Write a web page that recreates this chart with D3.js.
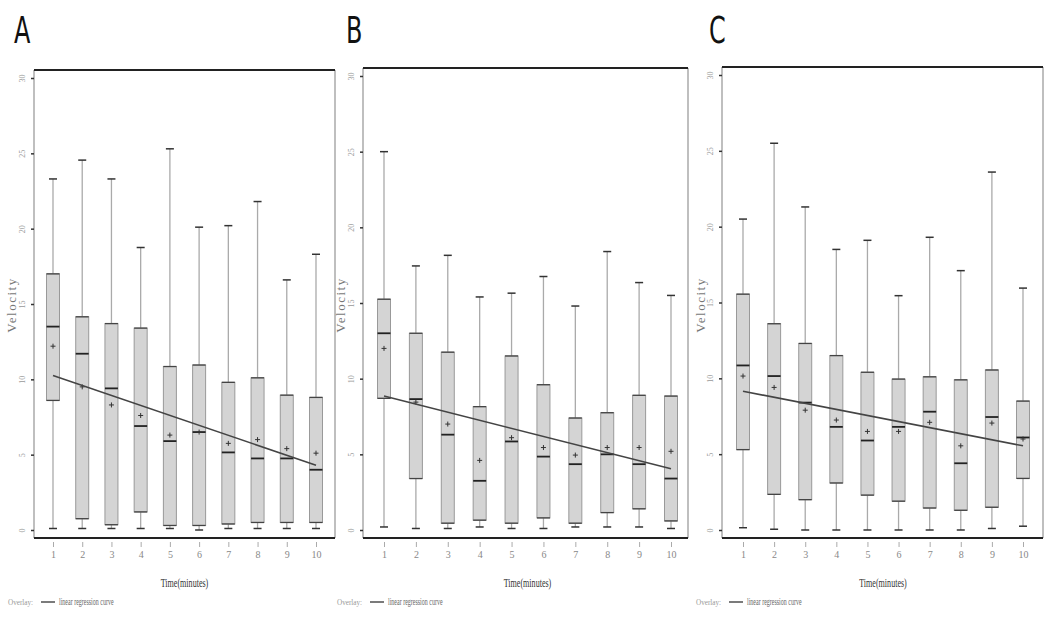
<!DOCTYPE html>
<html><head><meta charset="utf-8">
<script src="https://cdn.jsdelivr.net/npm/d3@7"></script>
<style>body{margin:0;background:#fff}svg{display:block}</style>
</head><body>
<svg id="chart" width="1050" height="630"></svg>
<script>
const minutes = [1,2,3,4,5,6,7,8,9,10];
const yTicks = [0,5,10,15,20,25,30];

// Panel A
const aMin = [0.1,0.1,0.1,0.1,0.1,0.0,0.1,0.1,0.1,0.1];
const aQ1  = [8.6,0.75,0.35,1.2,0.3,0.3,0.4,0.5,0.5,0.5];
const aMed = [13.5,11.7,9.4,6.9,5.9,6.5,5.15,4.75,4.75,4.0];
const aQ3  = [17.0,14.15,13.7,13.4,10.85,10.95,9.8,10.1,8.95,8.8];
const aMax = [23.3,24.55,23.3,18.75,25.3,20.1,20.2,21.8,16.6,18.3];
const aMean= [12.2,9.5,8.3,7.6,6.3,6.5,5.75,6.0,5.4,5.1];
const aReg = [10.25,4.3];

// Panel B
const bMin = [0.2,0.1,0.1,0.2,0.1,0.1,0.2,0.2,0.2,0.1];
const bQ1  = [8.7,3.4,0.45,0.65,0.45,0.8,0.45,1.15,1.4,0.6];
const bMed = [13.0,8.65,6.3,3.25,5.85,4.85,4.35,5.0,4.35,3.4];
const bQ3  = [15.25,13.0,11.75,8.15,11.5,9.6,7.4,7.75,8.9,8.85];
const bMax = [25.0,17.45,18.15,15.4,15.65,16.75,14.8,18.4,16.35,15.5];
const bMean= [12.0,8.45,7.0,4.6,6.1,5.45,4.95,5.45,5.45,5.2];
const bReg = [8.85,4.05];

// Panel C
const cMin = [0.15,0.05,0,0,0,0,0,0,0.1,0.25];
const cQ1  = [5.3,2.35,2.0,3.1,2.3,1.9,1.45,1.3,1.5,3.4];
const cMed = [10.85,10.15,8.4,6.8,5.9,6.8,7.8,4.4,7.45,6.1];
const cQ3  = [15.55,13.6,12.3,11.5,10.4,9.95,10.1,9.9,10.55,8.5];
const cMax = [20.5,25.5,21.3,18.5,19.1,15.45,19.3,17.1,23.6,15.95];
const cMean= [10.15,9.4,7.9,7.25,6.5,6.5,7.1,5.55,7.05,6.0];
const cReg = [9.15,5.55];

const panels = [
  {letter:"A", lx:14, left:34, right:335, top:70, x0:53, x1:316, y30:78, vx:16,
   min:aMin,q1:aQ1,med:aMed,q3:aQ3,max:aMax,mean:aMean,reg:aReg},
  {letter:"B", lx:346, left:363, right:688, top:68, x0:384, x1:671, y30:76, vx:345,
   min:bMin,q1:bQ1,med:bMed,q3:bQ3,max:bMax,mean:bMean,reg:bReg},
  {letter:"C", lx:709, left:722, right:1043, top:67, x0:743, x1:1023, y30:75, vx:705,
   min:cMin,q1:cQ1,med:cMed,q3:cQ3,max:cMax,mean:cMean,reg:cReg}
];

const svg = d3.select("#chart");
const bottom = 538, y0px = 530;
const serif = "Liberation Serif, DejaVu Serif, serif";

panels.forEach(p => {
  const g = svg.append("g");
  const x = d3.scalePoint().domain(minutes).range([p.x0, p.x1]);
  const y = d3.scaleLinear().domain([0,30]).range([y0px, p.y30]);

  // panel letter
  g.append("text").attr("x", 0).attr("y", 0)
    .attr("transform", `translate(${p.lx},43) scale(0.72,1)`)
    .attr("font-family","Liberation Sans Narrow, DejaVu Sans Condensed, sans-serif")
    .attr("font-size", 37).attr("fill","#111").text(p.letter);

  // frame
  g.append("line").attr("x1",p.left).attr("x2",p.left).attr("y1",p.top).attr("y2",bottom)
    .attr("stroke","#aaa").attr("stroke-width",1.5);
  g.append("line").attr("x1",p.right).attr("x2",p.right).attr("y1",p.top).attr("y2",bottom)
    .attr("stroke","#aaa").attr("stroke-width",1.5);
  g.append("line").attr("x1",p.left).attr("x2",p.right).attr("y1",p.top).attr("y2",p.top)
    .attr("stroke","#222").attr("stroke-width",2);

  // y axis
  const ya = d3.axisLeft(y).tickValues(yTicks).tickSize(3).tickFormat(d3.format("d"));
  const yg = g.append("g").attr("transform",`translate(${p.left},0)`).call(ya);
  yg.select(".domain").remove();
  yg.selectAll(".tick line").attr("stroke","#333").attr("stroke-width",1.5);
  yg.selectAll(".tick text").attr("font-family",serif).attr("font-size",8).attr("fill","#999")
    .attr("x",null).attr("dy",null).attr("text-anchor","middle")
    .attr("transform","translate(-9,0) rotate(-90)");

  // x axis
  const xa = d3.axisBottom(x).tickSize(5).tickSizeOuter(0);
  const xg = g.append("g").attr("transform",`translate(0,${bottom})`).call(xa);
  xg.select(".domain").remove();
  xg.selectAll(".tick line").attr("stroke","#aaa").attr("stroke-width",1).attr("y1",4).attr("y2",9);
  xg.selectAll(".tick text").attr("font-family",serif).attr("font-size",10).attr("fill","#888")
    .attr("y",17).attr("dy","0.32em").attr("transform",null);
  g.append("line").attr("x1",p.left).attr("x2",p.right).attr("y1",bottom).attr("y2",bottom)
    .attr("stroke","#222").attr("stroke-width",2);

  // axis titles
  g.append("text").attr("transform",`translate(${p.vx},305) rotate(-90)`)
    .attr("text-anchor","middle").attr("font-family",serif).attr("font-size",13)
    .attr("fill","#777").attr("letter-spacing","1.5").text("Velocity");
  const cx0 = (p.x0+p.x1)/2;
  g.append("text").attr("x",0).attr("y",0).attr("text-anchor","middle")
    .attr("font-family",serif).attr("font-size",13).attr("fill","#333")
    .attr("transform",`translate(${cx0},587) scale(0.62,1)`)
    .text("Time(minutes)");

  // legend
  const lg = g.append("g").attr("transform",`translate(${p.left-26},605)`);
  lg.append("text").attr("x",0).attr("y",0).attr("font-family",serif).attr("font-size",9)
    .attr("fill","#999").attr("transform","scale(0.8,1)").text("Overlay:");
  lg.append("line").attr("x1",33).attr("x2",47).attr("y1",-3).attr("y2",-3)
    .attr("stroke","#333").attr("stroke-width",1.3);
  lg.append("text").attr("x",0).attr("y",0).attr("font-family",serif).attr("font-size",10)
    .attr("fill","#666").attr("transform","translate(51,0) scale(0.6,1)")
    .text("linear regression curve");

  // boxes
  const bw = 13, cw = 8;
  minutes.forEach((m,i) => {
    const cx = x(m);
    g.append("line").attr("x1",cx).attr("x2",cx).attr("y1",y(p.max[i])).attr("y2",y(p.q3[i]))
      .attr("stroke","#aaa").attr("stroke-width",1.3);
    g.append("line").attr("x1",cx).attr("x2",cx).attr("y1",y(p.q1[i])).attr("y2",y(p.min[i]))
      .attr("stroke","#aaa").attr("stroke-width",1.3);
    [p.max[i], p.min[i]].forEach(v => g.append("line").attr("x1",cx-cw/2).attr("x2",cx+cw/2)
      .attr("y1",y(v)).attr("y2",y(v)).attr("stroke","#333").attr("stroke-width",1.5));
    g.append("rect").attr("x",cx-bw/2).attr("width",bw)
      .attr("y",y(p.q3[i])).attr("height",y(p.q1[i])-y(p.q3[i]))
      .attr("fill","#d4d4d4").attr("stroke","#999").attr("stroke-width",1);
    [p.q3[i], p.q1[i]].forEach(v => g.append("line").attr("x1",cx-bw/2).attr("x2",cx+bw/2)
      .attr("y1",y(v)).attr("y2",y(v)).attr("stroke","#444").attr("stroke-width",1.3));
    g.append("line").attr("x1",cx-bw/2).attr("x2",cx+bw/2)
      .attr("y1",y(p.med[i])).attr("y2",y(p.med[i])).attr("stroke","#222").attr("stroke-width",1.8);
    const my = y(p.mean[i]);
    g.append("path").attr("d",`M${cx-2.5},${my}H${cx+2.5}M${cx},${my-2.5}V${my+2.5}`)
      .attr("stroke","#333").attr("stroke-width",1);
  });

  // regression line
  g.append("line").attr("x1",x(1)).attr("x2",x(10))
    .attr("y1",y(p.reg[0])).attr("y2",y(p.reg[1]))
    .attr("stroke","#444").attr("stroke-width",1.6);
});
</script>
</body></html>
